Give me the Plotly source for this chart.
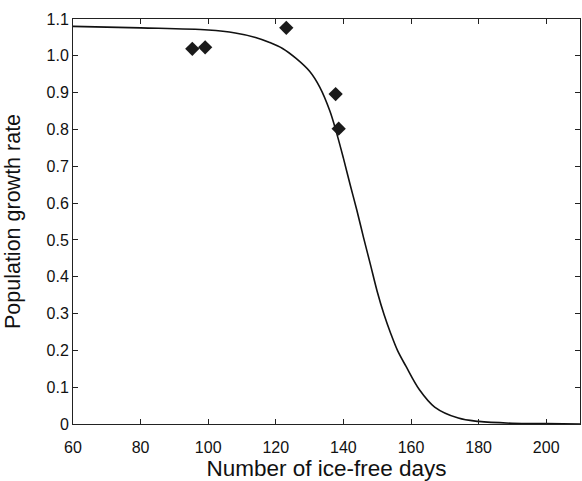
import plotly.graph_objects as go

# Fitted curve
curve_days = [60, 80, 100, 108, 114, 118, 122, 126, 130, 133, 136, 138, 140, 142, 144, 146,
              148, 150, 152, 154, 156, 158.5, 162.5, 167, 174, 180, 190, 200, 210]
curve_rate = [1.080, 1.076, 1.070, 1.062, 1.050, 1.037, 1.020, 0.993, 0.958, 0.915, 0.850,
              0.790, 0.722, 0.650, 0.580, 0.505, 0.433, 0.360, 0.298, 0.246, 0.200, 0.157,
              0.093, 0.046, 0.016, 0.007, 0.002, 0.001, 0.000]

# Observed points
obs_days = [95.3, 99.1, 123.1, 137.7, 138.6]
obs_rate = [1.019, 1.023, 1.076, 0.896, 0.802]

x_ticks = [60, 80, 100, 120, 140, 160, 180, 200]
y_ticks = [0, 0.1, 0.2, 0.3, 0.4, 0.5, 0.6, 0.7, 0.8, 0.9, 1.0, 1.1]
y_tick_text = ["0", "0.1", "0.2", "0.3", "0.4", "0.5", "0.6", "0.7", "0.8", "0.9", "1.0", "1.1"]

FONT = "Liberation Sans, Arial, Helvetica, sans-serif"

fig = go.Figure()
fig.add_trace(go.Scatter(x=curve_days, y=curve_rate, mode="lines",
                         line=dict(color="#111111", width=1.6, shape="spline", smoothing=1.0),
                         hoverinfo="skip"))
fig.add_trace(go.Scatter(x=obs_days, y=obs_rate, mode="markers",
                         marker=dict(symbol="diamond", size=11, color="#1a1a1a",
                                     line=dict(width=0))))

axis_common = dict(showline=True, linecolor="#222222", linewidth=1, mirror="allticks",
                   ticks="inside", ticklen=5, tickwidth=1, tickcolor="#222222",
                   showgrid=False, zeroline=False, automargin=False,
                   tickfont=dict(family=FONT, size=16, color="#111111"))

fig.update_layout(
    width=582, height=481,
    margin=dict(l=73, r=2, t=19, b=57),
    paper_bgcolor="white", plot_bgcolor="white",
    showlegend=False,
    xaxis=dict(range=[60, 210], tickvals=x_ticks, ticklabelstandoff=9,
               title=dict(text="Number of ice-free days", standoff=8,
                          font=dict(family=FONT, size=22.5, color="#111111")),
               **axis_common),
    yaxis=dict(range=[0, 1.1], tickvals=y_ticks, ticktext=y_tick_text, ticklabelstandoff=0,
               title=dict(text="Population growth rate", standoff=20,
                          font=dict(family=FONT, size=21.5, color="#111111")),
               **axis_common),
)

fig.write_html("out.html", config={"displayModeBar": False},
               post_script="document.body.style.margin='0';document.body.style.overflow='hidden';")
